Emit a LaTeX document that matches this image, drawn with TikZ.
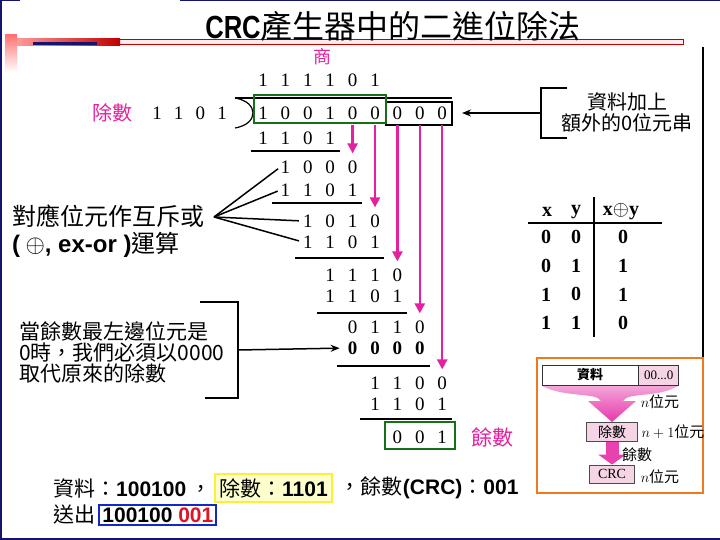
\documentclass[tikz,border=0pt]{standalone}
\usepackage{fontspec}
\setmainfont{Liberation Serif}
\newfontfamily\cjk{Noto Sans CJK TC}
\newfontfamily\arial{Liberation Sans}
\usetikzlibrary{arrows.meta,positioning}
\definecolor{crcmag}{RGB}{228,32,160}
\definecolor{crcgreen}{RGB}{25,110,25}
\definecolor{crcorange}{RGB}{240,120,30}
\definecolor{crcnavy}{RGB}{20,20,110}
\definecolor{boxpink}{RGB}{245,212,230}
\definecolor{hlyellow}{RGB}{250,240,60}
\definecolor{hlfill}{RGB}{255,255,205}
\definecolor{sendblue}{RGB}{20,40,200}
\definecolor{crcred}{RGB}{220,20,40}
\newcommand{\lat}[1]{{\arial\bfseries #1}}
\tikzset{
  digit/.style={font=\fontsize{19}{19}\selectfont, inner sep=0pt},
  bolddigit/.style={font=\fontsize{19}{19}\selectfont\bfseries, inner sep=0pt},
  sumline/.style={line width=1.5pt},
  bringdown/.style={crcmag, line width=2.4pt, -{Triangle[length=10pt,width=10pt]}, shorten <=5pt, shorten >=7pt},
  callout/.style={line width=1.5pt},
  magtxt/.style={font=\cjk\fontsize{20}{20}\selectfont, text=crcmag, inner sep=0pt},
  note/.style={inner sep=0pt, align=left},
  tabtxt/.style={font=\fontsize{20}{20}\selectfont\bfseries, inner sep=0pt},
  pinkbox/.style={draw=black!70, fill=boxpink, line width=0.8pt, inner sep=0pt},
  smalltxt/.style={font=\cjk\fontsize{14}{14}\selectfont, inner sep=0pt},
  bottomtxt/.style={font=\cjk\fontsize{21}{21}\selectfont, inner sep=1pt},
}
\begin{document}
\begin{tikzpicture}[x=1pt, y=-1pt]
  \useasboundingbox (0,0) rectangle (720,540);
  % ==== 頁框與標題 ====
  \draw[crcnavy, line width=2pt] (1,0) -- (1,540);
  \draw[crcnavy, line width=2pt] (0,539) -- (720,539);
  \draw[crcnavy, line width=1.5pt] (0,0.75) -- (20,0.75) (180,0.75) -- (720,0.75);
  \shade[top color=red!55, bottom color=white] (5,35) rectangle (17,72);
  \draw[red!75!black, fill=red!8, line width=1pt] (17,40) rectangle (683,45);
  \shade[left color=red!40, right color=red!75!black] (17,39) rectangle (120,46);
  \fill[crcnavy] (33,42) rectangle (97,45);
  \draw[line width=1.5pt] (703,47) -- (703,357);
  \node[font=\cjk\fontsize{32}{32}\selectfont, inner sep=0pt] (title) at (393,26)
    {\scalebox{0.8}[1]{\arial\bfseries CRC}產生器中的二進位除法};

  % ==== 長除法 ====
  \node[magtxt, font=\cjk\fontsize{18}{18}\selectfont] (qlbl) at (322,57) {商};
  \node[magtxt] (divlbl) at (112,113) {除數};
  \foreach \bit [count=\col from 0] in {1,1,0,1}
    \node[digit] (v\col) at ({157+21.7*\col},113) {\bit};
  \foreach \bit [count=\col from 0] in {1,1,1,1,0,1}
    \node[digit] (q\col) at ({263+22.4*\col},80) {\bit};
  \foreach \bit [count=\col from 0] in {1,0,0,1,0,0,0,0,0}
    \node[digit] (d\col) at ({263+22.4*\col},113) {\bit};
  \foreach \row/\y/\first/\bits in {3/138/0/{1,1,0,1}, 4/167/1/{1,0,0,0}, 5/190/1/{1,1,0,1},
      6/221/2/{1,0,1,0}, 7/242/2/{1,1,0,1}, 8/275/3/{1,1,1,0}, 9/296/3/{1,1,0,1},
      10/327/4/{0,1,1,0}, 12/383/5/{1,1,0,0}, 13/404/5/{1,1,0,1}, 14/437/6/{0,0,1}}
    \foreach \bit [count=\col from \first] in \bits
      \node[digit] (r\row-\col) at ({263+22.4*\col},\y) {\bit};
  \foreach \bit [count=\col from 4] in {0,0,0,0}
    \node[bolddigit] (r11-\col) at ({263+22.4*\col},348) {\bit};

  % 除號
  \draw[line width=1.2pt] (235,98) -- (452,98);
  \draw[line width=1.2pt] (235,98) .. controls (259,102) and (259,124) .. (235,128);
  % 相減橫線
  \draw[sumline] (251,151) -- (340,151);
  \draw[sumline] (272,203) -- (362,203);
  \draw[sumline] (295,258) -- (384,258);
  \draw[sumline] (317,313) -- (407,313);
  \draw[sumline] (337,366) -- (430,366);
  \draw[sumline] (360,419) -- (452,419);

  % 框
  \draw[line width=1.5pt] (386,102) rectangle (452,125);
  \draw[crcgreen, line width=2.5pt] (254,95) rectangle (386,123);
  \draw[crcgreen, line width=2.5pt] (385,422) rectangle (455,449);
  \node[magtxt, font=\cjk\fontsize{21}{21}\selectfont] (remlbl) at (492,437) {餘數};

  % 下移箭頭
  \draw[bringdown] (d4.south) -- (r4-4.north);
  \draw[bringdown] (d5.south) -- (r6-5.north);
  \draw[bringdown] (d6.south) -- (r8-6.north);
  \draw[bringdown] (d7.south) -- (r10-7.north);
  \draw[bringdown] (d8.south) -- (r12-8.north);

  % ==== 說明 ====
  \node[note, align=center, font=\cjk\fontsize{20}{21}\selectfont] (padnote) at (627,112)
    {資料加上\\額外的0位元串};
  \draw[callout] (567,88) -- (541,88) -- (541,138) -- (567,138);
  \coordinate (padfrom) at (541,113);
  \coordinate (padend) at (452,113);
  \draw[callout, -{Stealth[length=9pt,width=7pt]}, shorten >=10pt] (padfrom) -- (padend);

  \node[note, anchor=west, font=\cjk\fontsize{24}{27}\selectfont] (xornote) at (12,231)
    {對應位元作互斥或\\\lat{(} $\oplus$\lat{, ex-or )}運算};
  \coordinate (fan) at (214,217);
  \draw[callout, shorten >=3pt] (fan) -- (r4-1.west);
  \draw[callout, shorten >=3pt] (fan) -- (r5-1.west);
  \draw[callout, shorten >=4pt] (fan) -- (r6-2.west);
  \draw[callout, shorten >=4pt] (fan) -- (r7-2.west);

  \node[note, anchor=west, font=\cjk\fontsize{21}{21}\selectfont] (zeronote) at (19,352)
    {當餘數最左邊位元是\\0時，我們必須以0000\\取代原來的除數};
  \draw[callout] (200,302) -- (238,302) -- (238,398) -- (205,398);
  \coordinate (zerofrom) at (238,350);
  \draw[callout, -{Stealth[length=9pt,width=7pt]}, shorten >=8pt] (zerofrom) -- (r11-4.west);

  % ==== 互斥或真值表 ====
  \node[tabtxt] (tx) at (547,212) {x};
  \node[tabtxt] (ty) at (576,212) {y};
  \node[tabtxt] (txy) at (621,212) {x$\oplus$y};
  \foreach \a/\b/\c [count=\n] in {0/0/0, 0/1/1, 1/0/1, 1/1/0} {
    \node[tabtxt] (ta\n) at (546,{237+28.7*(\n-1)}) {\a};
    \node[tabtxt] (tb\n) at (576,{237+28.7*(\n-1)}) {\b};
    \node[tabtxt] (tc\n) at (623,{237+28.7*(\n-1)}) {\c};
  }
  \draw[line width=2pt] (528,223) -- (662,223);
  \draw[line width=2pt] (594,197) -- (594,337);

  % ==== 右下流程圖 ====
  \draw[crcorange, line width=2.5pt] (537,358) rectangle (703,493);
  \node[draw=black!80, fill=white, line width=0.8pt, minimum width=96pt, minimum height=20pt,
    inner sep=0pt, font=\cjk\bfseries\fontsize{13}{13}\selectfont] (datacell) at (590,375) {資料};
  \node[draw=black!80, fill=boxpink, line width=0.8pt, minimum width=40pt, minimum height=20pt,
    inner sep=0pt, font=\fontsize{13}{13}\selectfont, right=0pt of datacell] (padcell) {00...0};
  \shade[top color=crcmag!40, bottom color=crcmag!90]
    (542,386) .. controls (566,398) and (596,392) .. (601,401) -- (588,401) -- (612,422)
    -- (636,401) -- (623,401) .. controls (628,392) and (658,398) .. (678,386) -- cycle;
  \node[smalltxt, font=\cjk\fontsize{15}{15}\selectfont] (nbits1) at (660,402) {$n$位元};
  \node[pinkbox, minimum width=51pt, minimum height=19pt, font=\cjk\fontsize{14}{14}\selectfont]
    (divbox) at (612,432) {除數};
  \node[smalltxt, font=\cjk\fontsize{15}{15}\selectfont] (nbits2) at (673,432) {$n+1$位元};
  \node[pinkbox, minimum width=45pt, minimum height=18pt, font=\fontsize{14}{14}\selectfont]
    (crcbox) at (612,474) {CRC};
  \draw[crcmag!85, line width=13pt, -{Triangle[length=10pt,width=27pt]}] (divbox.south) -- (crcbox.north);
  \node[smalltxt, font=\cjk\fontsize{15}{15}\selectfont] (remlbl2) at (637,455) {餘數};
  \node[smalltxt, font=\cjk\fontsize{15}{15}\selectfont] (nbits3) at (660,477) {$n$位元};

  % ==== 底部結論 ====
  \node[bottomtxt, anchor=west] (sumA) at (52,488) {資料：\lat{100100} ，};
  \node[bottomtxt, draw=hlyellow, fill=hlfill, line width=2pt, inner sep=4pt, right=1pt of sumA]
    (sumB) {除數：\lat{1101}};
  \node[bottomtxt, right=6pt of sumB] (sumC) {，餘數\lat{(CRC)}：\lat{001}};
  \node[bottomtxt, anchor=west] (sendlbl) at (52,515) {送出};
  \node[bottomtxt, draw=sendblue, line width=2pt, inner sep=3pt, right=2pt of sendlbl]
    (sendbits) {\lat{100100 \textcolor{crcred}{001}}};
\end{tikzpicture}
\end{document}
